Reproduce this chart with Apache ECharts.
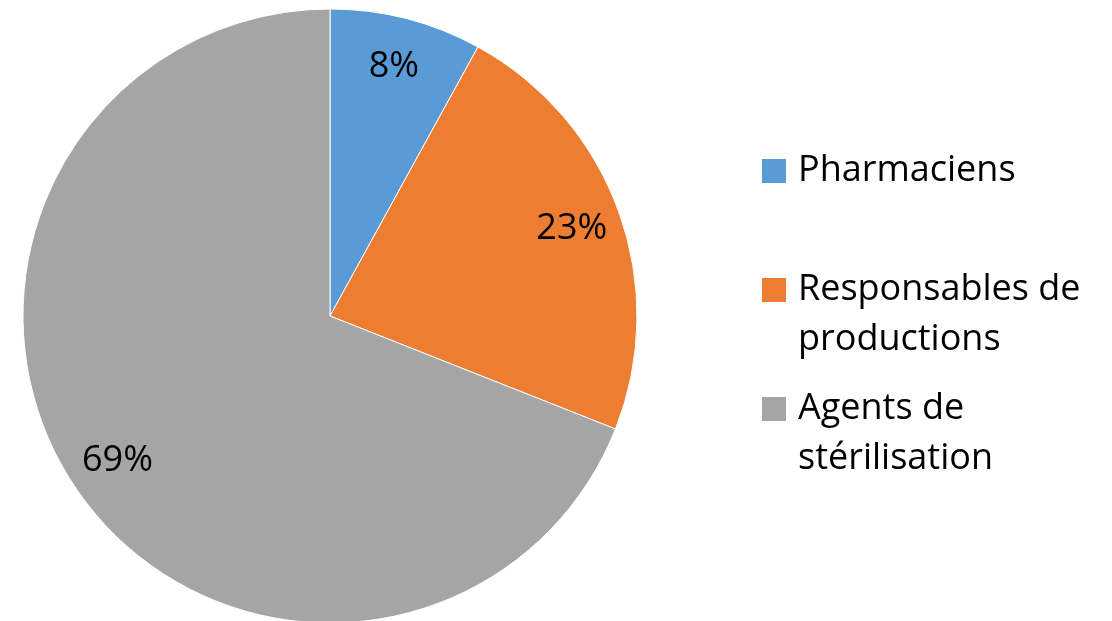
<!DOCTYPE html>
<html>
<head>
<meta charset="utf-8">
<script src="https://cdn.jsdelivr.net/npm/echarts@6/dist/echarts.min.js"></script>
<style>
  html, body { margin: 0; padding: 0; background: #fff; }
  #chart { width: 1112px; height: 621px; }
</style>
</head>
<body>
<div id="chart"></div>
<script>
// Staff categories and their share of respondents (%)
const categories = ['Pharmaciens', 'Responsables de productions', 'Agents de stérilisation'];
const shares = [8, 23, 69];
// Legend text, broken into the lines it is shown on
const legendLines = [['Pharmaciens'], ['Responsables de', 'productions'], ['Agents de', 'stérilisation']];
const colors = ['#5B9BD5', '#ED7D31', '#A5A5A5'];

const FONT = '"Open Sans", "Noto Sans", sans-serif';
const CENTER = [330, 316];
const legendTops = [153, 272, 391];

const sliceData = categories.map((name, i) => ({
  name,
  value: shares[i],
  itemStyle: { color: colors[i] }
}));

// One legend block per category so that each can sit at its own height,
// with the colour square aligned on the first line of text.
const legends = categories.map((name, i) => ({
  data: [name],
  orient: 'vertical',
  left: 756,
  top: legendTops[i],
  padding: 0,
  itemWidth: 0,
  itemHeight: 0,
  selectedMode: false,
  formatter: () => legendLines[i]
    .map((line, k) => (k === 0 ? '{sq|}{gap|}' : '{sp|}') + '{t|' + line + '}')
    .join('\n'),
  textStyle: {
    rich: {
      sq: { width: 24, height: 24, backgroundColor: colors[i] },
      gap: { width: 12 },
      sp: { width: 36 },
      t: { fontFamily: FONT, fontSize: 36, lineHeight: 50, color: '#000' }
    }
  }
}));

const chart = echarts.init(document.getElementById('chart'), null, { renderer: 'canvas' });
chart.setOption({
  animation: false,
  backgroundColor: '#fff',
  legend: legends,
  series: [
    {
      // the pie itself
      type: 'pie',
      center: CENTER,
      radius: 307,
      startAngle: 90,
      clockwise: true,
      silent: true,
      data: sliceData,
      label: { show: false },
      labelLine: { show: false },
      itemStyle: { borderColor: '#fff', borderWidth: 1 }
    },
    {
      // transparent ring carrying the percentage labels toward the rim
      type: 'pie',
      center: CENTER,
      radius: [203, 305],
      startAngle: 90,
      clockwise: true,
      silent: true,
      data: categories.map((name, i) => ({ name, value: shares[i] })),
      itemStyle: { color: 'rgba(0,0,0,0)' },
      label: {
        show: true,
        position: 'inside',
        formatter: p => p.value + '%',
        fontFamily: FONT,
        fontSize: 36,
        color: '#000'
      },
      labelLine: { show: false }
    }
  ]
});
</script>
</body>
</html>
